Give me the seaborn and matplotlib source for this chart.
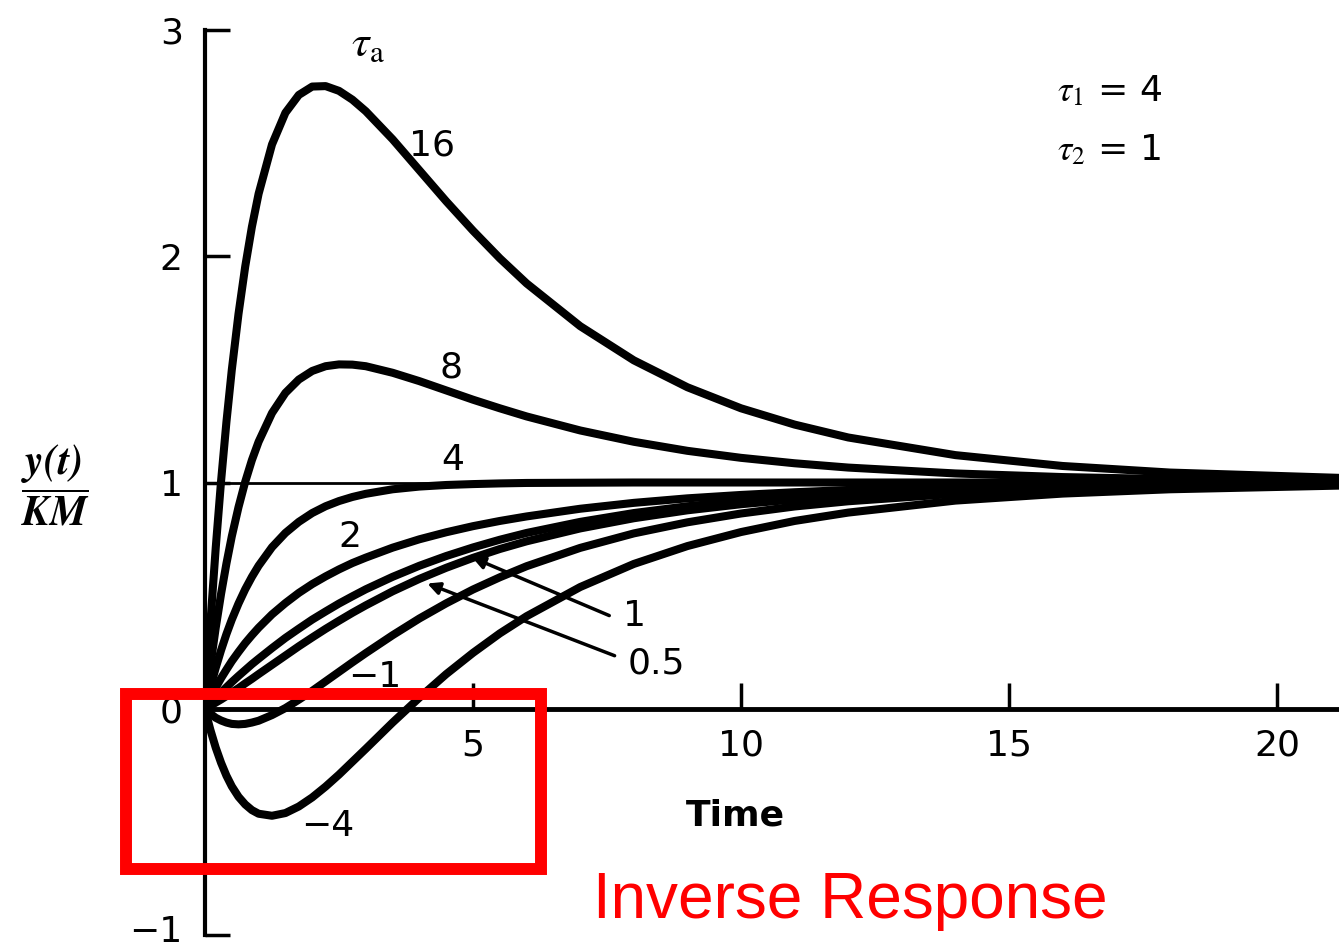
import numpy as np
import pandas as pd
import seaborn as sns
import matplotlib.pyplot as plt
import matplotlib.transforms as mtransforms
from matplotlib.patches import Rectangle

# Normalised step response y(t)/KM for tau1 = 4, tau2 = 1 and several lead times tau_a
time = [0, 0.05, 0.1, 0.2, 0.3, 0.4, 0.5, 0.625, 0.75, 0.875, 1, 1.25, 1.5, 1.75, 2,
        2.25, 2.5, 2.75, 3, 3.5, 4, 4.5, 5, 5.5, 6, 7, 8, 9, 10, 11, 12, 14, 16, 18, 21.5]
y_16 = [0, 0.194, 0.377, 0.711, 1.007, 1.268, 1.498, 1.745, 1.954, 2.130, 2.276, 2.494,
        2.634, 2.713, 2.750, 2.752, 2.731, 2.692, 2.641, 2.517, 2.380, 2.243, 2.113, 1.991,
        1.880, 1.691, 1.540, 1.421, 1.328, 1.256, 1.199, 1.121, 1.073, 1.044, 1.018]
y_8 = [0, 0.097, 0.189, 0.358, 0.508, 0.642, 0.762, 0.891, 1.003, 1.099, 1.180, 1.307,
       1.396, 1.455, 1.493, 1.514, 1.522, 1.521, 1.514, 1.485, 1.448, 1.407, 1.366, 1.328,
       1.292, 1.230, 1.180, 1.140, 1.109, 1.085, 1.066, 1.040, 1.024, 1.015, 1.006]
y_4 = [0, 0.049, 0.095, 0.181, 0.259, 0.330, 0.394, 0.465, 0.528, 0.583, 0.632, 0.714,
       0.777, 0.826, 0.865, 0.895, 0.918, 0.936, 0.950, 0.970, 0.982, 0.989, 0.993, 0.996,
       0.998, 0.999, 1.0, 1.0, 1.0, 1.0, 1.0, 1.0, 1.0, 1.0, 1.0]
y_2 = [0, 0.025, 0.048, 0.093, 0.135, 0.173, 0.210, 0.251, 0.290, 0.325, 0.358, 0.417,
       0.467, 0.512, 0.551, 0.585, 0.616, 0.644, 0.668, 0.712, 0.749, 0.780, 0.807, 0.830,
       0.850, 0.884, 0.910, 0.930, 0.945, 0.957, 0.967, 0.980, 0.988, 0.993, 0.997]
y_1 = [0, 0.012, 0.025, 0.049, 0.072, 0.095, 0.118, 0.145, 0.171, 0.197, 0.221, 0.268,
       0.313, 0.354, 0.394, 0.430, 0.465, 0.497, 0.528, 0.583, 0.632, 0.675, 0.713, 0.747,
       0.777, 0.826, 0.865, 0.895, 0.918, 0.936, 0.950, 0.970, 0.982, 0.989, 0.995]
y_05 = [0, 0.006, 0.013, 0.027, 0.041, 0.056, 0.072, 0.091, 0.112, 0.132, 0.153, 0.194,
        0.235, 0.276, 0.315, 0.353, 0.389, 0.424, 0.457, 0.519, 0.574, 0.623, 0.667, 0.706,
        0.740, 0.797, 0.842, 0.877, 0.904, 0.925, 0.942, 0.965, 0.979, 0.987, 0.995]
y_m1 = [0, -0.012, -0.022, -0.040, -0.052, -0.061, -0.067, -0.069, -0.067, -0.061, -0.053,
        -0.028, 0.003, 0.040, 0.079, 0.121, 0.163, 0.205, 0.246, 0.325, 0.399, 0.466, 0.527,
        0.581, 0.630, 0.711, 0.775, 0.824, 0.863, 0.894, 0.917, 0.950, 0.970, 0.982, 0.992]
y_m4 = [0, -0.048, -0.093, -0.172, -0.239, -0.296, -0.343, -0.389, -0.423, -0.448, -0.464,
        -0.473, -0.461, -0.432, -0.392, -0.344, -0.291, -0.234, -0.177, -0.061, 0.049, 0.153,
        0.247, 0.333, 0.409, 0.538, 0.640, 0.719, 0.781, 0.830, 0.867, 0.920, 0.951, 0.970, 0.988]

tau_a = [16, 8, 4, 2, 1, 0.5, -1, -4]
curve_labels = ["16", "8", "4", "2", "1", "0.5", "\u22121", "\u22124"]
x_ticks = [5, 10, 15, 20]
y_ticks = [-1, 0, 1, 2, 3]
y_tick_labels = ["\u22121", "0", "1", "2", "3"]

series = [y_16, y_8, y_4, y_2, y_1, y_05, y_m1, y_m4]
df = pd.concat(
    [pd.DataFrame({"t": time, "y": ys, "tau": ta}) for ta, ys in zip(tau_a, series)],
    ignore_index=True,
)

sns.set_style("white")
plt.rcParams["font.family"] = ["DejaVu Sans"]
plt.rcParams["mathtext.fontset"] = "stix"
plt.rcParams["text.color"] = "black"
plt.rcParams["xtick.color"] = "black"
plt.rcParams["ytick.color"] = "black"

W, H = 1339, 949
fig = plt.figure(figsize=(W / 100, H / 100), dpi=100)
ax = fig.add_axes([205 / W, (H - 935) / H, (W - 205) / W, (935 - 30) / H])

sns.lineplot(data=df, x="t", y="y", units="tau", estimator=None, sort=False,
             color="black", lw=5.8, ax=ax, legend=False, zorder=3)
for ln in ax.lines:
    ln.set_solid_capstyle("round")
    ln.set_solid_joinstyle("round")

ax.axhline(1, color="black", lw=2, zorder=2)

ax.set_xlim(0, (W - 205) / 53.6)
ax.set_ylim(-1, 3)
ax.set_xlabel("")
ax.set_ylabel("")

for s in ["top", "right"]:
    ax.spines[s].set_visible(False)
ax.spines["left"].set_linewidth(3)
ax.spines["left"].set_color("black")
ax.spines["bottom"].set_position(("data", 0))
ax.spines["bottom"].set_linewidth(3.5)
ax.spines["bottom"].set_color("black")

ax.set_xticks(x_ticks)
ax.set_xticklabels([str(v) for v in x_ticks])
ax.set_yticks(y_ticks)
ax.set_yticklabels(y_tick_labels)
ax.tick_params(axis="x", bottom=True, direction="in", length=19, width=2.5, pad=14,
               labelsize=26, colors="black")
ax.tick_params(axis="y", left=True, direction="in", length=18, width=2.5, pad=16,
               labelsize=26, colors="black")
# lift the lowest y label a little so it stays inside the figure
low = ax.get_yticklabels()[0]
low.set_transform(low.get_transform() + mtransforms.ScaledTranslation(0, 6 / 100, fig.dpi_scale_trans))

# curve labels
label_pos = {
    "16": (4.24, 2.49), "8": (4.59, 1.51), "4": (4.62, 1.10), "2": (2.71, 0.76),
    "1": (8.02, 0.41), "0.5": (8.43, 0.20), "\u22121": (3.17, 0.14), "\u22124": (2.29, -0.52),
}
for lab in curve_labels:
    x, y = label_pos[lab]
    ax.text(x, y, lab, fontsize=26, ha="center", va="center", zorder=2)

ax.annotate("", xy=(4.94, 0.673), xytext=(7.59, 0.407),
            arrowprops=dict(arrowstyle="-|>", color="black", lw=2.5, mutation_scale=18))
ax.annotate("", xy=(4.10, 0.558), xytext=(7.69, 0.23),
            arrowprops=dict(arrowstyle="-|>", color="black", lw=2.5, mutation_scale=18))

ax.text(3.04, 2.94, r"$\tau_{\mathrm{a}}$", fontsize=32, ha="center", va="center")
ax.text(15.9, 2.73, r"$\tau_1$ = 4", fontsize=26, ha="left", va="center")
ax.text(15.9, 2.47, r"$\tau_2$ = 1", fontsize=26, ha="left", va="center")

fig.text(735 / W, (H - 815) / H, "Time", fontsize=26, fontweight="bold",
         ha="center", va="center")
fig.text(55 / W, (H - 485) / H, r"$\dfrac{\mathbfit{y(t)}}{\mathbfit{KM}}$", fontsize=30,
         ha="center", va="center")

# highlight box around the initial dip
ax.add_patch(Rectangle((-1.47, -0.708), 7.74, 0.774, fill=False, edgecolor="#ff0000",
                       lw=8.6, clip_on=False, zorder=10))
fig.text(593 / W, (H - 918) / H, "Inverse Response", fontsize=46, color="#ff0000",
         family=["Liberation Sans", "DejaVu Sans"], ha="left", va="baseline")

fig.savefig("out.png", dpi=100)
